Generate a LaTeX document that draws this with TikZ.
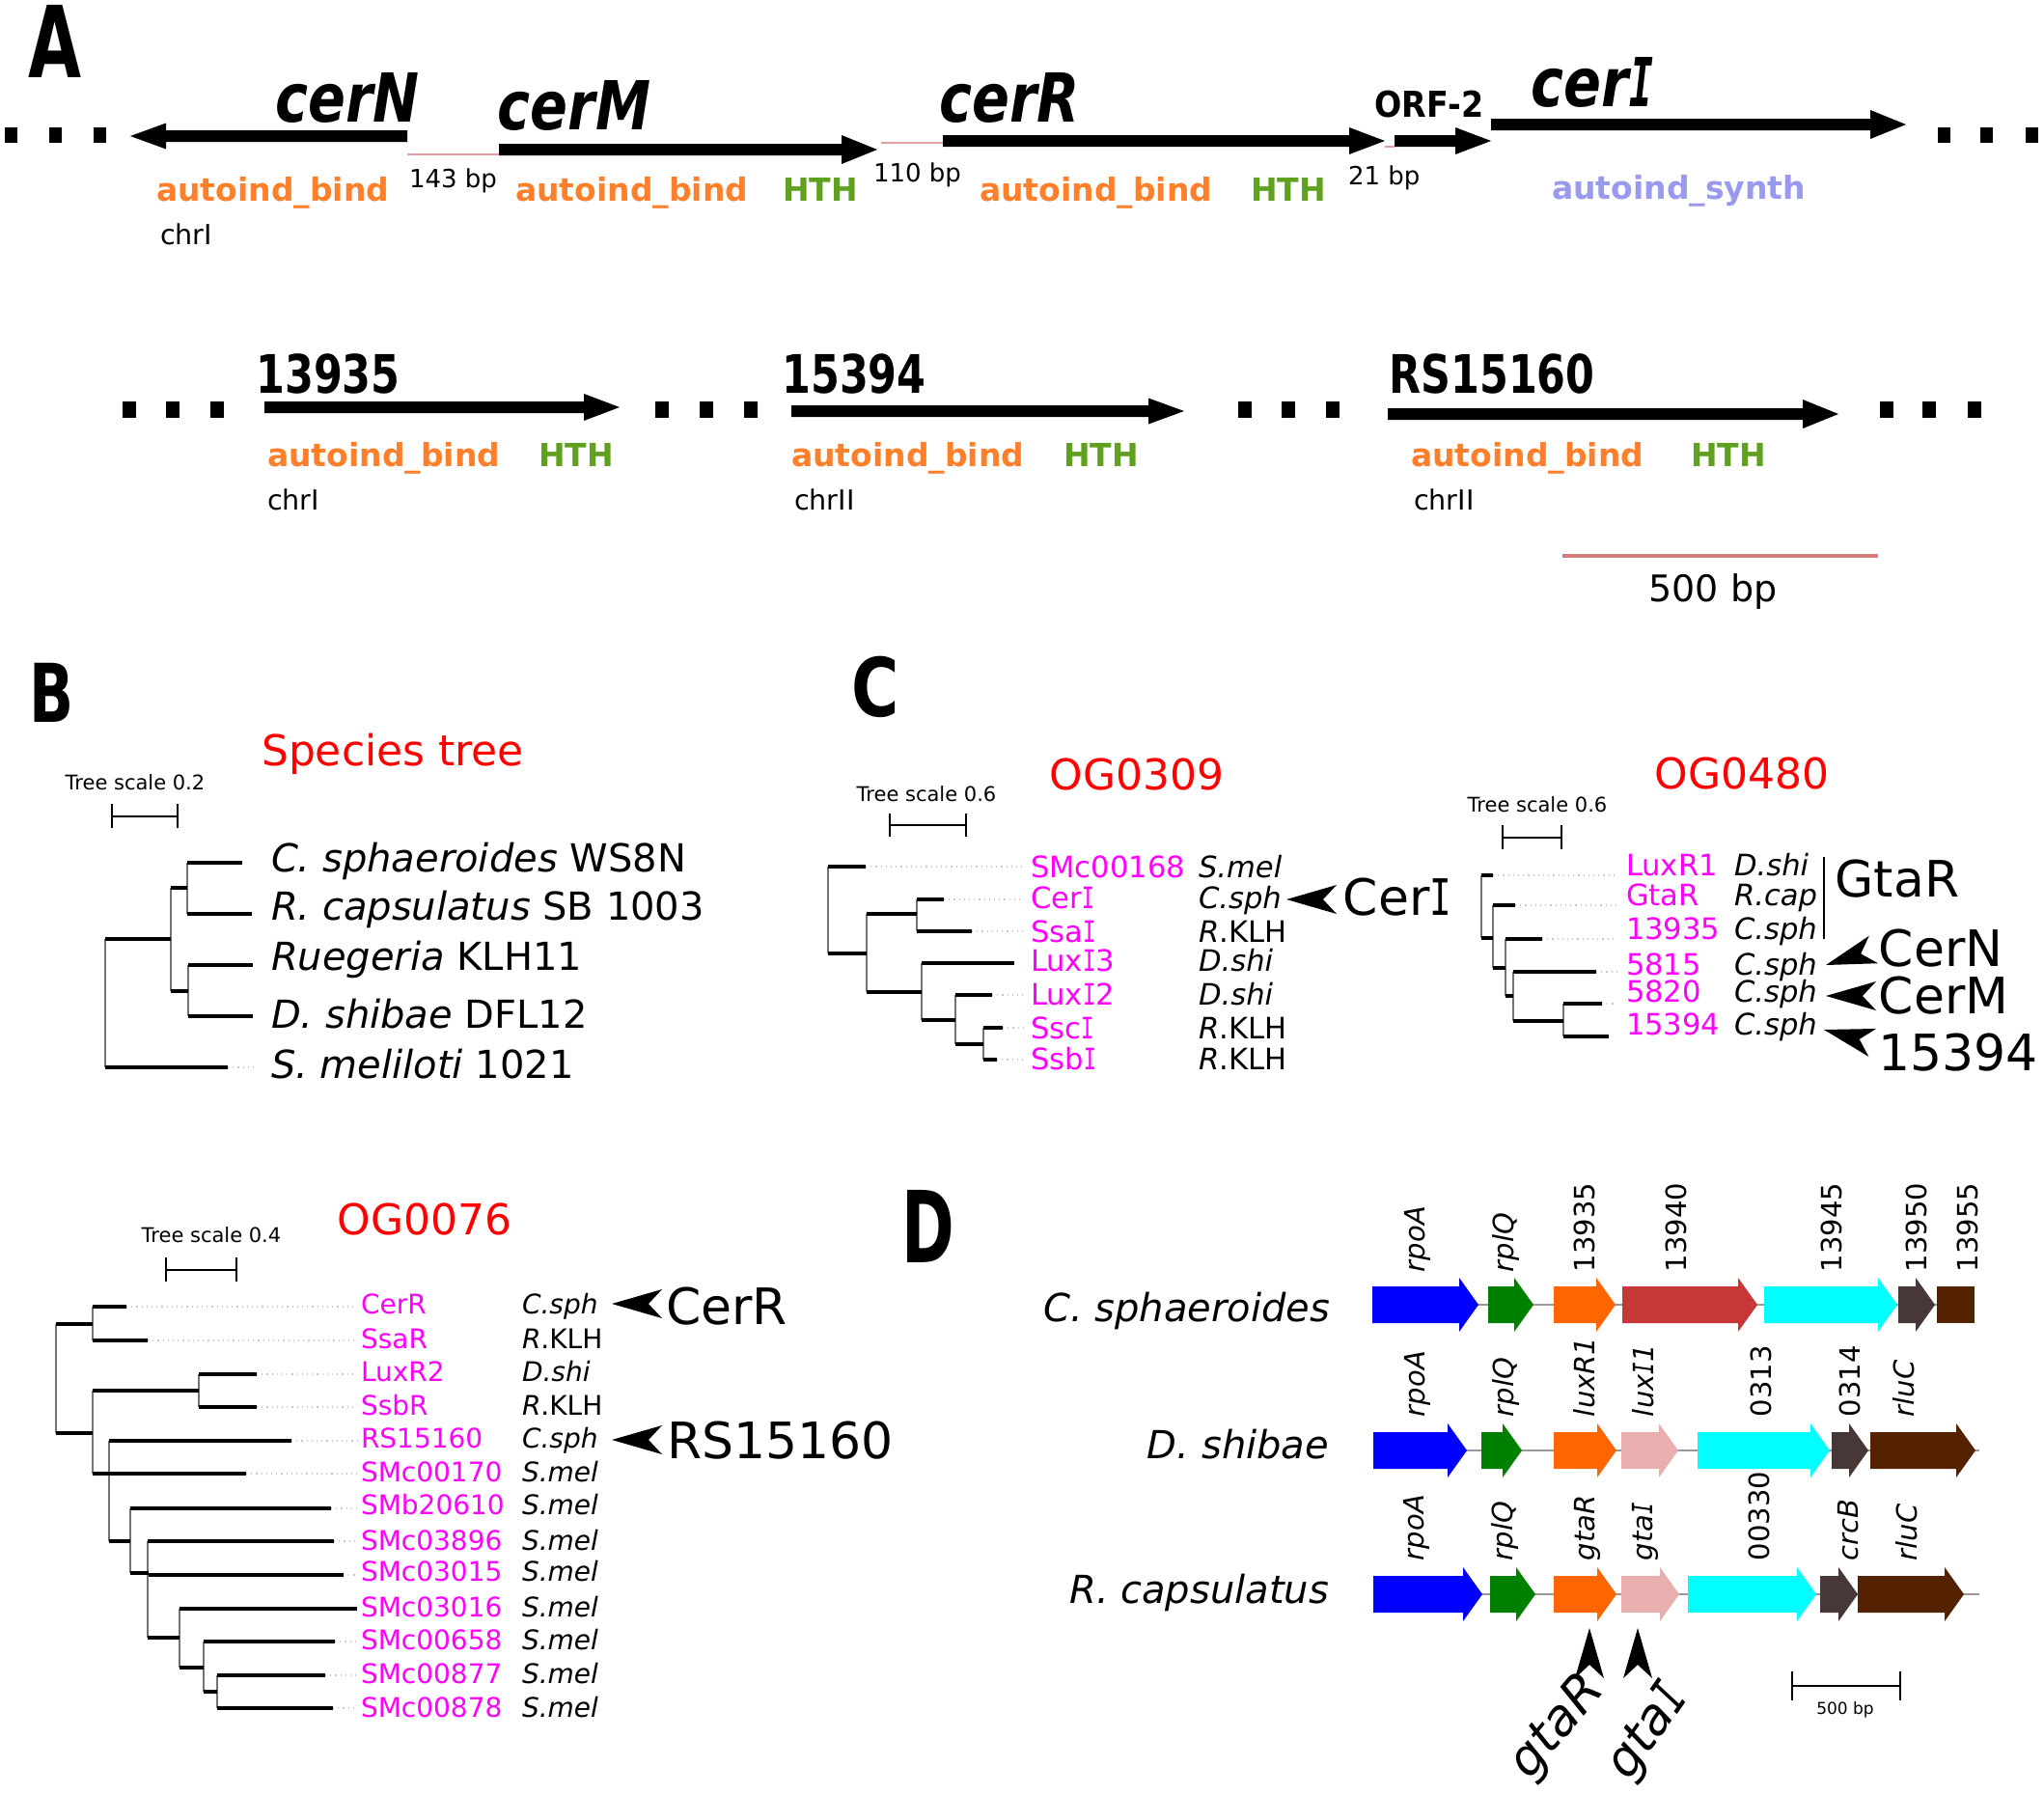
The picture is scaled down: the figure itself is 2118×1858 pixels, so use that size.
\documentclass[tikz,border=0pt]{standalone}
\usepackage{fontspec}
\setmainfont{DejaVu Sans}
\newfontfamily\monofam{DejaVu Sans Mono}
\usepackage{graphicx}
\definecolor{aorange}{HTML}{FF7F2A}
\definecolor{ahth}{HTML}{5FA01E}
\definecolor{asynth}{HTML}{9999EE}
\definecolor{pinkln}{HTML}{E0A0A0}
\definecolor{scalepink}{HTML}{D47F7F}
\definecolor{mag}{HTML}{FF00FF}
\definecolor{gblue}{HTML}{0000FF}
\definecolor{ggreen}{HTML}{008000}
\definecolor{gorange}{HTML}{FF6600}
\definecolor{gred}{HTML}{C83737}
\definecolor{gcyan}{HTML}{00FFFF}
\definecolor{gdark}{HTML}{483737}
\definecolor{gbrown}{HTML}{552200}
\definecolor{gpink}{HTML}{E9AFAF}
\newcommand{\fsz}[1]{\fontsize{#1}{#1}\selectfont}
\newcommand{\Iv}{\scalebox{0.72}[1]{\monofam I}}
\newcommand{\garR}[4]{\fill ({#1},{#3-6}) -- ({#2-37},{#3-6}) -- ({#2-37},{#3-#4}) -- ({#2},{#3}) -- ({#2-37},{#3+#4}) -- ({#2-37},{#3+6}) -- ({#1},{#3+6}) -- cycle;}
\newcommand{\garL}[4]{\fill ({#1},{#3-6}) -- ({#2+37},{#3-6}) -- ({#2+37},{#3-#4}) -- ({#2},{#3}) -- ({#2+37},{#3+#4}) -- ({#2+37},{#3+6}) -- ({#1},{#3+6}) -- cycle;}
\newcommand{\dgene}[4]{\fill[#4] ({#1},{#3-19}) -- ({#2-20},{#3-19}) -- ({#2-20},{#3-28}) -- ({#2},{#3}) -- ({#2-20},{#3+28}) -- ({#2-20},{#3+19}) -- ({#1},{#3+19}) -- cycle;}
\newcommand{\myhead}[3]{\fill[shift={(#1,#2)}, rotate=#3] (0,0) -- (52,-15) -- (38,0) -- (52,15) -- cycle;}
\newcommand{\dlab}[4]{\node[dl, rotate=90, anchor=base west] (#1) at ({#2+10},#3) {#4};}
\begin{document}
\begin{tikzpicture}[x=0.5pt,y=-0.5pt,
  every node/.style={inner sep=0pt,outer sep=0pt},
  gname/.style={font=\fsz{35}\bfseries\itshape},
  gnum/.style={font=\fsz{27.5}\bfseries},
  dom/.style={font=\fsz{16.5}\bfseries, anchor=base west},
  bplab/.style={font=\fsz{13}, anchor=base west},
  chrlab/.style={font=\fsz{14.3}, anchor=base west},
  ttl/.style={font=\fsz{22}, text=red},
  tsc/.style={font=\fsz{10.5}},
  big/.style={font=\fsz{26}},
  splab/.style={font=\fsz{20}, anchor=base west},
  lfc/.style={font=\fsz{15.3}, anchor=base west},
  lfb/.style={font=\fsz{14}, anchor=base west},
  dl/.style={font=\fsz{14.5}},
  dsp/.style={font=\fsz{20}\itshape, anchor=base east},
  br/.style={line width=1.6pt},
  vr/.style={line width=0.7pt, black!55},
  dt/.style={line width=0.6pt, black!22, dotted},
  sbar/.style={line width=1.3pt},
  bb/.style={line width=1pt, black!40}
]
\fill[white] (0,0) rectangle (2118,1858);
\useasboundingbox (0,0) rectangle (2118,1858);

% ================= Panel A =================
\node[font=\fsz{51.5}\bfseries] (pA) at (57,43) {\scalebox{0.69}[1]{A}};
\foreach \x in {5,51,97,2008,2052,2099} \fill (\x,132) rectangle ++(13,16);
\foreach \x in {127,172,218,679,725,771,1283,1328,1374,1948,1992,2039} \fill (\x,416) rectangle ++(14,17);

\garL{422}{135}{141}{13.5}
\garR{517}{909}{155}{15}
\garR{977}{1435}{146}{14}
\garR{1445}{1545}{146}{14}
\garR{1545}{1975}{129}{15}
\garR{274}{642}{422}{14}
\garR{820}{1227}{426}{13.5}
\garR{1438}{1905}{429}{15}

\draw[pinkln, line width=1pt] (422,160) -- (517,160);
\draw[pinkln, line width=1pt] (913,148) -- (977,148);
\draw[pinkln, line width=1pt] (1435,152) -- (1445,152);

\node[gname] (cerN) at (360,101) {\scalebox{0.82}[1]{cerN}};
\node[gname] (cerM) at (595,109) {\scalebox{0.82}[1]{cerM}};
\node[gname] (cerR) at (1046,101) {\scalebox{0.82}[1]{cerR}};
\node[gname] (cerI) at (1650,85) {\scalebox{0.82}[1]{cer\Iv}};
\node[font=\fsz{18.5}\bfseries] (orf2) at (1481,108) {\scalebox{0.9}[1]{ORF-2}};

\node[dom, text=aorange] (d1) at (162,208) {autoind\_bind};
\node[dom, text=aorange] (d2) at (534,208) {autoind\_bind};
\node[dom, text=ahth] (h2) at (811,208) {HTH};
\node[dom, text=aorange] (d3) at (1015,208) {autoind\_bind};
\node[dom, text=ahth] (h3) at (1296,208) {HTH};
\node[dom, text=asynth] (s4) at (1608,206) {autoind\_synth};
\node[bplab] (bp143) at (424,194) {143 bp};
\node[bplab] (bp110) at (905,188) {110 bp};
\node[bplab] (bp21) at (1397,191) {21 bp};
\node[chrlab] (chrA) at (166,253) {chrI};

\node[gnum] (n13935) at (340,387) {\scalebox{0.78}[1]{13935}};
\node[gnum] (n15394) at (885,387) {\scalebox{0.78}[1]{15394}};
\node[gnum] (nRS) at (1546,387) {\scalebox{0.78}[1]{RS15160}};
\node[dom, text=aorange] (d5) at (277,483) {autoind\_bind};
\node[dom, text=ahth] (h5) at (558,483) {HTH};
\node[dom, text=aorange] (d6) at (820,483) {autoind\_bind};
\node[dom, text=ahth] (h6) at (1102,483) {HTH};
\node[dom, text=aorange] (d7) at (1462,483) {autoind\_bind};
\node[dom, text=ahth] (h7) at (1752,483) {HTH};
\node[chrlab] (chrB) at (277,528) {chrI};
\node[chrlab] (chrC) at (823,528) {chrII};
\node[chrlab] (chrD) at (1465,528) {chrII};

\draw[scalepink, line width=2pt] (1619,576) -- (1946,576);
\node[font=\fsz{19}] (sbA) at (1775,613) {500 bp};

% ================= Panel B (species tree) =================
\node[font=\fsz{42}\bfseries] (pB) at (54,718) {\scalebox{0.72}[1]{B}};
\node[ttl] (stt) at (407,781) {Species tree};
\node[tsc] (ts1) at (140,811) {Tree scale 0.2};
\draw[sbar] (116,846) -- (184,846); \draw[sbar] (116,833) -- (116,858); \draw[sbar] (184,833) -- (184,858);
\draw[vr] (109,973) -- (109,1106);
\draw[vr] (177,920) -- (177,1027);
\draw[vr] (194,894) -- (194,947);
\draw[vr] (195,1000) -- (195,1053);
\draw[br] (109,973) -- (177,973);
\draw[br] (109,1106) -- (236,1106);
\draw[br] (177,920) -- (194,920);
\draw[br] (177,1027) -- (195,1027);
\draw[br] (194,894) -- (251,894);
\draw[br] (194,947) -- (261,947);
\draw[br] (195,1000) -- (262,1000);
\draw[br] (195,1053) -- (262,1053);
\draw[dt] (236,1106) -- (265,1106);
\node[splab] (sp1) at (281,903) {\textit{C. sphaeroides} WS8N};
\node[splab] (sp2) at (281,953) {\textit{R. capsulatus} SB 1003};
\node[splab] (sp3) at (281,1005) {\textit{Ruegeria} KLH11};
\node[splab] (sp4) at (281,1065) {\textit{D. shibae} DFL12};
\node[splab] (sp5) at (281,1117) {\textit{S. meliloti} 1021};

% ================= Panel C =================
\node[font=\fsz{42}\bfseries] (pC) at (907,712) {\scalebox{0.8}[1]{C}};
% OG0309
\node[ttl] (t309) at (1178,802) {OG0309};
\node[tsc] (ts2) at (960,823) {Tree scale 0.6};
\draw[sbar] (922,855) -- (1001,855); \draw[sbar] (922,843) -- (922,867); \draw[sbar] (1001,843) -- (1001,867);
\draw[vr] (858,898) -- (858,988);
\draw[vr] (898,947) -- (898,1028);
\draw[vr] (950,932) -- (950,965);
\draw[vr] (955,998) -- (955,1057);
\draw[vr] (990,1031) -- (990,1082);
\draw[vr] (1019,1065) -- (1019,1098);
\draw[br] (858,898) -- (897,898);
\draw[br] (858,988) -- (898,988);
\draw[br] (898,947) -- (950,947);
\draw[br] (950,932) -- (978,932);
\draw[br] (950,965) -- (1007,965);
\draw[br] (898,1028) -- (955,1028);
\draw[br] (955,998) -- (1051,998);
\draw[br] (955,1057) -- (990,1057);
\draw[br] (990,1031) -- (1028,1031);
\draw[br] (990,1082) -- (1019,1082);
\draw[br] (1019,1065) -- (1039,1065);
\draw[br] (1019,1098) -- (1033,1098);
\draw[dt] (897,898) -- (1060,898);
\draw[dt] (978,932) -- (1060,932);
\draw[dt] (1007,965) -- (1060,965);
\draw[dt] (1028,1031) -- (1060,1031);
\draw[dt] (1039,1065) -- (1060,1065);
\draw[dt] (1033,1098) -- (1060,1098);
\foreach \n/\y/\l/\s in {a/909/SMc00168/{\itshape S.mel}, b/941/Cer\Iv/{\itshape C.sph}, c/976/Ssa\Iv/{\itshape R}.KLH, d/1006/Lux\Iv 3/{\itshape D.shi}, e/1041/Lux\Iv 2/{\itshape D.shi}, f/1076/Ssc\Iv/{\itshape R}.KLH, g/1108/Ssb\Iv/{\itshape R}.KLH}{
  \node[lfc, text=mag] (o309\n) at (1068,\y) {\l};
  \node[lfc] (o309\n-sp) at (1242,\y) {\s};
}
\myhead{1333}{932}{0}
\node[big] (bigCerI) at (1448,930) {Cer\Iv};

% OG0480
\node[ttl] (t480) at (1805,801) {OG0480};
\node[tsc] (ts3) at (1593,834) {Tree scale 0.6};
\draw[sbar] (1557,868) -- (1618,868); \draw[sbar] (1557,855) -- (1557,880); \draw[sbar] (1618,855) -- (1618,880);
\draw[vr] (1535,907) -- (1535,972);
\draw[vr] (1547,938) -- (1547,1003);
\draw[vr] (1560,973) -- (1560,1032);
\draw[vr] (1568,1007) -- (1568,1058);
\draw[vr] (1620,1040) -- (1620,1074);
\draw[br] (1535,907) -- (1547,907);
\draw[br] (1535,972) -- (1547,972);
\draw[br] (1547,938) -- (1570,938);
\draw[br] (1547,1003) -- (1560,1003);
\draw[br] (1560,973) -- (1598,973);
\draw[br] (1560,1032) -- (1568,1032);
\draw[br] (1568,1007) -- (1654,1007);
\draw[br] (1568,1058) -- (1620,1058);
\draw[br] (1620,1040) -- (1660,1040);
\draw[br] (1620,1074) -- (1667,1074);
\draw[dt] (1547,907) -- (1675,907);
\draw[dt] (1570,938) -- (1675,938);
\draw[dt] (1598,973) -- (1675,973);
\draw[dt] (1654,1007) -- (1675,1007);
\draw[dt] (1660,1040) -- (1675,1040);
\foreach \n/\y/\l/\s in {a/907/LuxR1/{\itshape D.shi}, b/938/GtaR/{\itshape R.cap}, c/973/13935/{\itshape C.sph}, d/1010/5815/{\itshape C.sph}, e/1038/5820/{\itshape C.sph}, f/1072/15394/{\itshape C.sph}}{
  \node[lfc, text=mag] (o480\n) at (1685,\y) {\l};
  \node[lfc] (o480\n-sp) at (1797,\y) {\s};
}
\draw[line width=0.8pt] (1890,888) -- (1890,973);
\node[big] (bigGtaR) at (1966,911) {GtaR};
\myhead{1892}{1000}{18}
\node[big] (bigCerN) at (2011,983) {CerN};
\myhead{1892}{1032}{0}
\node[big] (bigCerM) at (2014,1032) {CerM};
\myhead{1890}{1067}{-15}
\node[big] (big15394) at (2029,1091) {15394};

% ================= Panel B lower (OG0076) =================
\node[ttl] (t076) at (440,1263) {OG0076};
\node[tsc] (ts4) at (219,1280) {Tree scale 0.4};
\draw[sbar] (172,1316) -- (245,1316); \draw[sbar] (172,1303) -- (172,1328); \draw[sbar] (245,1303) -- (245,1328);
\draw[vr] (58,1372) -- (58,1485);
\draw[vr] (96,1354) -- (96,1389);
\draw[vr] (96,1441) -- (96,1527);
\draw[vr] (206,1424) -- (206,1458);
\draw[vr] (113,1493) -- (113,1597);
\draw[vr] (135,1563) -- (135,1630);
\draw[vr] (153,1597) -- (153,1697);
\draw[vr] (186,1667) -- (186,1728);
\draw[vr] (211,1701) -- (211,1753);
\draw[vr] (225,1736) -- (225,1770);
\draw[br] (58,1372) -- (96,1372);
\draw[br] (96,1354) -- (131,1354);
\draw[br] (96,1389) -- (153,1389);
\draw[br] (58,1485) -- (96,1485);
\draw[br] (96,1441) -- (206,1441);
\draw[br] (206,1424) -- (266,1424);
\draw[br] (206,1458) -- (266,1458);
\draw[br] (96,1527) -- (255,1527);
\draw[br] (113,1493) -- (302,1493);
\draw[br] (113,1597) -- (135,1597);
\draw[br] (135,1563) -- (343,1563);
\draw[br] (135,1630) -- (154,1630);
\draw[br] (153,1597) -- (346,1597);
\draw[br] (154,1632) -- (356,1632);
\draw[br] (153,1697) -- (186,1697);
\draw[br] (186,1667) -- (370,1667);
\draw[br] (186,1728) -- (211,1728);
\draw[br] (211,1701) -- (347,1701);
\draw[br] (211,1753) -- (225,1753);
\draw[br] (225,1736) -- (337,1736);
\draw[br] (225,1770) -- (345,1770);
\draw[dt] (131,1354) -- (370,1354);
\draw[dt] (153,1389) -- (370,1389);
\draw[dt] (266,1424) -- (370,1424);
\draw[dt] (266,1458) -- (370,1458);
\draw[dt] (302,1493) -- (370,1493);
\draw[dt] (255,1527) -- (370,1527);
\draw[dt] (343,1563) -- (370,1563);
\draw[dt] (346,1597) -- (370,1597);
\draw[dt] (356,1632) -- (370,1632);
\draw[dt] (347,1701) -- (370,1701);
\draw[dt] (337,1736) -- (370,1736);
\draw[dt] (345,1770) -- (370,1770);
\foreach \n/\y/\l/\s in {a/1361/CerR/{\itshape C.sph}, b/1397/SsaR/{\itshape R}.KLH, c/1431/LuxR2/{\itshape D.shi}, d/1466/SsbR/{\itshape R}.KLH, e/1500/RS15160/{\itshape C.sph}, f/1535/SMc00170/{\itshape S.mel}, g/1569/SMb20610/{\itshape S.mel}, h/1606/SMc03896/{\itshape S.mel}, i/1638/SMc03015/{\itshape S.mel}, j/1675/SMc03016/{\itshape S.mel}, k/1709/SMc00658/{\itshape S.mel}, l/1744/SMc00877/{\itshape S.mel}, m/1779/SMc00878/{\itshape S.mel}}{
  \node[lfb, text=mag] (o076\n) at (374,\y) {\l};
  \node[lfb] (o076\n-sp) at (541,\y) {\s};
}
\myhead{634}{1351}{0}
\node[big] (bigCerR) at (753,1354) {CerR};
\myhead{634}{1492}{0}
\node[big, anchor=west] (bigRS) at (691,1493) {RS15160};

% ================= Panel D =================
\node[font=\fsz{51.5}\bfseries] (pD) at (962,1271) {\scalebox{0.64}[1]{D}};
\node[dsp] (dspC) at (1378,1369) {C. sphaeroides};
\node[dsp] (dspD) at (1377,1511) {D. shibae};
\node[dsp] (dspR) at (1377,1661) {R. capsulatus};

\draw[bb] (1422,1352) -- (2046,1352);
\draw[bb] (1423,1503) -- (2051,1503);
\draw[bb] (1423,1652) -- (2051,1652);

\dgene{1422}{1532}{1352}{gblue}
\dgene{1542}{1589}{1352}{ggreen}
\dgene{1610}{1674}{1352}{gorange}
\dgene{1681}{1821}{1352}{gred}
\dgene{1828}{1966}{1352}{gcyan}
\dgene{1967}{2005}{1352}{gdark}
\fill[gbrown] (2007,1333) rectangle (2046,1371);

\dgene{1423}{1520}{1503}{gblue}
\dgene{1535}{1577}{1503}{ggreen}
\dgene{1610}{1675}{1503}{gorange}
\dgene{1680}{1739}{1503}{gpink}
\dgene{1759}{1896}{1503}{gcyan}
\dgene{1898}{1936}{1503}{gdark}
\dgene{1938}{2047}{1503}{gbrown}

\dgene{1423}{1536}{1652}{gblue}
\dgene{1544}{1591}{1652}{ggreen}
\dgene{1610}{1675}{1652}{gorange}
\dgene{1680}{1740}{1652}{gpink}
\dgene{1749}{1882}{1652}{gcyan}
\dgene{1886}{1925}{1652}{gdark}
\dgene{1925}{2035}{1652}{gbrown}

\dlab{r1a}{1466}{1318}{\itshape rpoA}
\dlab{r1b}{1558}{1318}{\itshape rplQ}
\dlab{r1c}{1642}{1318}{13935}
\dlab{r1d}{1737}{1318}{13940}
\dlab{r1e}{1898}{1318}{13945}
\dlab{r1f}{1986}{1318}{13950}
\dlab{r1g}{2039}{1318}{13955}

\dlab{r2a}{1466}{1468}{\itshape rpoA}
\dlab{r2b}{1558}{1468}{\itshape rplQ}
\dlab{r2c}{1642}{1468}{\itshape luxR1}
\dlab{r2d}{1703}{1468}{\itshape lux\Iv 1}
\dlab{r2e}{1825}{1468}{0313}
\dlab{r2f}{1917}{1468}{0314}
\dlab{r2g}{1973}{1468}{\itshape rluC}

\dlab{r3a}{1465}{1617}{\itshape rpoA}
\dlab{r3b}{1557}{1617}{\itshape rplQ}
\dlab{r3c}{1642}{1617}{\itshape gtaR}
\dlab{r3d}{1702}{1617}{\itshape gta\Iv}
\dlab{r3e}{1823}{1617}{00330}
\dlab{r3f}{1915}{1617}{\itshape crcB}
\dlab{r3g}{1976}{1617}{\itshape rluC}

\myhead{1647}{1687}{-90}
\myhead{1697}{1687}{-90}
\node[font=\fsz{26}\itshape, rotate=50] (bigGtaRd) at (1614,1790) {gtaR};
\node[font=\fsz{26}\itshape, rotate=55] (bigGtaId) at (1708,1795) {gta\Iv};

\draw[sbar] (1857,1747) -- (1969,1747); \draw[sbar] (1857,1732) -- (1857,1762); \draw[sbar] (1969,1732) -- (1969,1762);
\node[font=\fsz{8.5}] (sbD) at (1912,1772) {500 bp};
\end{tikzpicture}
\end{document}
